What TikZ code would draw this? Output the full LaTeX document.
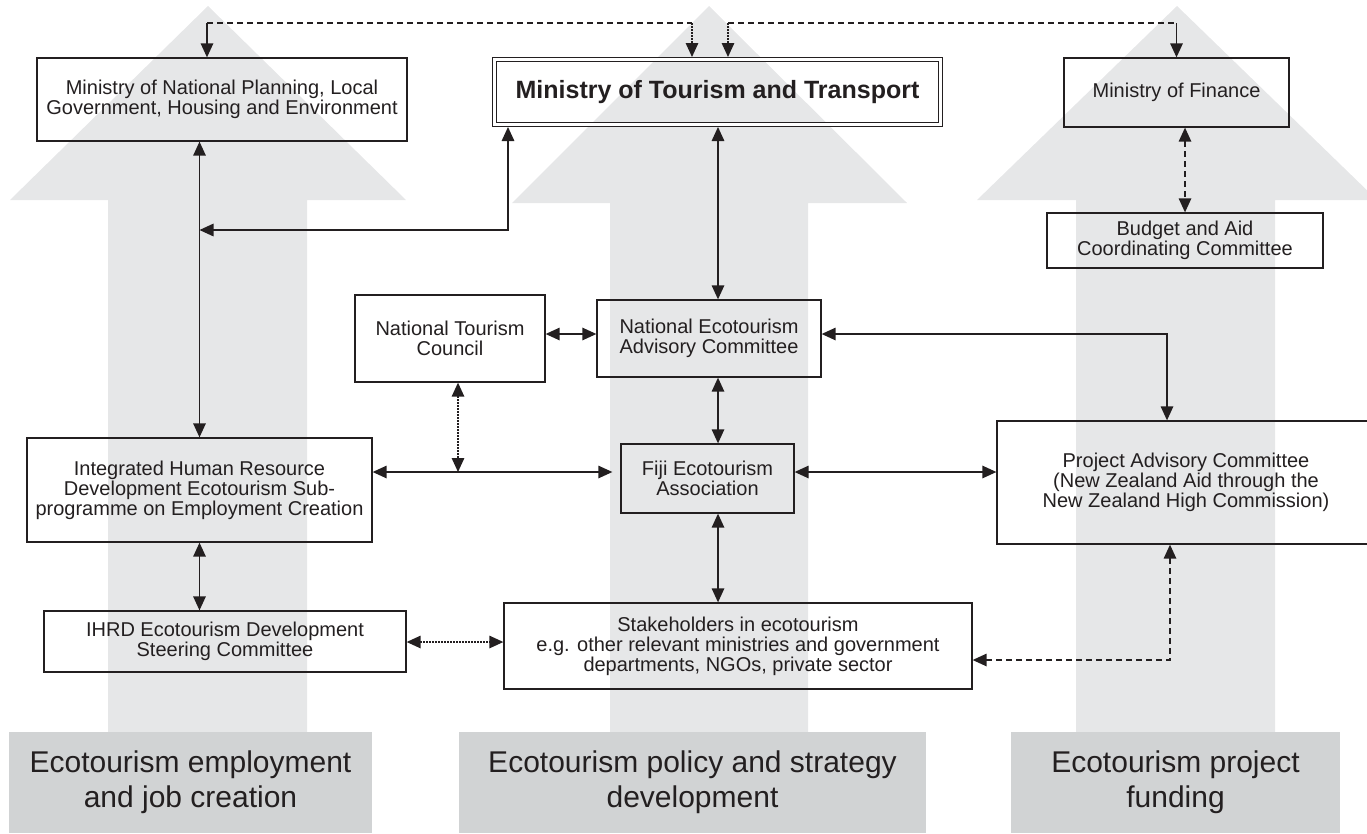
\documentclass[tikz,border=0pt]{standalone}
\usepackage{fontspec}
\setmainfont{Liberation Sans}
\usetikzlibrary{arrows.meta}
\definecolor{bigarrow}{HTML}{E6E7E8}
\definecolor{labelbg}{HTML}{D1D3D4}
\definecolor{ink}{HTML}{231F20}
\begin{document}
\begin{tikzpicture}[x=1pt,y=-1pt,line width=1.3pt,
  >={Triangle[length=14pt,width=12.5pt]},
  box/.style={draw=ink, inner sep=0pt, align=center, text=ink,
    font=\fontsize{20}{20}\selectfont},
  dashline/.style={dash pattern=on 6pt off 4pt},
  dotline/.style={dash pattern=on 1.5pt off 1.5pt},
  pillar/.style={fill=labelbg, inner sep=0pt, align=center, text=ink,
    font=\fontsize{30}{35}\selectfont, minimum height=101pt}
]
\useasboundingbox (0,0) rectangle (1367,833);

% three broad background arrows
\fill[bigarrow] (108,740) -- (108,200) -- (10,200) -- (208,6) -- (406,200) -- (307,200) -- (307,740) -- cycle;
\fill[bigarrow] (610,740) -- (610,203) -- (512,203) -- (709,6) -- (907,203) -- (808,203) -- (808,740) -- cycle;
\fill[bigarrow] (1076,740) -- (1076,200) -- (977,200) -- (1177,6) -- (1377,200) -- (1275,200) -- (1275,740) -- cycle;

% pillar captions
\node[pillar, minimum width=363pt] (capA) at (190.5,782.5) {Ecotourism employment\\and job creation};
\node[pillar, minimum width=467pt] (capB) at (692.5,782.5) {Ecotourism policy and strategy\\development};
\node[pillar, minimum width=329pt] (capC) at (1175.5,782.5) {Ecotourism project\\funding};

% organisations
\node[box, minimum width=370pt, minimum height=83pt] (mnp) at (222,99.5)
  {Ministry of National Planning, Local\\Government, Housing and Environment};
\node[box, double=white, double distance=2.4pt, outer sep=2.5pt,
  minimum width=446pt, minimum height=65pt,
  font=\bfseries\fontsize{25}{25}\selectfont] (mtt) at (717.5,92)
  {Ministry of Tourism and Transport};
\node[box, minimum width=225pt, minimum height=69pt] (mof) at (1176.5,92.5)
  {Ministry of Finance};
\node[box, minimum width=276pt, minimum height=55pt] (bac) at (1185,240.5)
  {Budget and Aid\\Coordinating Committee};
\node[box, minimum width=190pt, minimum height=87pt] (ntc) at (450,338.5)
  {National Tourism\\Council};
\node[box, minimum width=224pt, minimum height=77pt] (neac) at (709,338.5)
  {National Ecotourism\\Advisory Committee};
\node[box, minimum width=173pt, minimum height=69pt] (fea) at (707.5,478.5)
  {Fiji Ecotourism\\Association};
\node[box, minimum width=345pt, minimum height=104pt] (ihr) at (199.5,490)
  {Integrated Human Resource\\Development Ecotourism Sub-\\programme on Employment Creation};
\node[box, minimum width=378pt, minimum height=123pt] (pac) at (1186,482.5)
  {Project Advisory Committee\\(New Zealand Aid through the\\New Zealand High Commission)};
\node[box, minimum width=362pt, minimum height=61pt] (ihrd) at (225,641.5)
  {IHRD Ecotourism Development\\Steering Committee};
\node[box, minimum width=468pt, minimum height=86pt] (stk) at (738,646)
  {Stakeholders in ecotourism\\e.g. other relevant ministries and government\\departments, NGOs, private sector};

% routing points
\coordinate (t207) at (207,23);
\coordinate (t692) at (692,23);
\coordinate (t728) at (728,23);
\coordinate (t1176) at (1176.5,23);
\coordinate (k508) at (508,230);
\coordinate (c718) at (718,0);
\coordinate (r334) at (0,334);
\coordinate (k1167) at (1167,334);
\coordinate (r472) at (0,472);
\coordinate (k458) at (458,472);
\coordinate (r642) at (0,642);
\coordinate (k1170) at (1170,660);

\begin{scope}[draw=ink, color=ink, line width=1.4pt]
% top-level links between ministries
\draw[dashline] (t207) -- (t692);
\draw[dashline] (t728) -- (t1176);
\draw[->] (t207) -- (mnp.north -| t207);
\draw[dotline,->] (t692) -- (mtt.north -| t692);
\draw[dotline,->] (t728) -- (mtt.north -| t728);
\draw[->] (t1176) -- (mof.north);

% solid links
\draw[<->] (ihr.north |- mnp.south) -- (ihr.north);
\draw[<->] (mtt.south -| k508) -- (k508) -- (ihr.north |- k508);
\draw[<->] (mtt.south -| c718) -- (neac.north -| c718);
\draw[<->] (ntc.east |- r334) -- (neac.west |- r334);
\draw[<->] (neac.east |- r334) -- (k1167) -- (pac.north -| k1167);
\draw[<->] (neac.south -| c718) -- (fea.north -| c718);
\draw[<->, shorten >=8pt] (ihr.east |- r472) -- (fea.west |- r472);
\draw[<->] (fea.east |- r472) -- (pac.west |- r472);
\draw[<->] (fea.south -| c718) -- (stk.north -| c718);
\draw[<->] (ihr.south) -- (ihrd.north -| ihr.south);

% dashed and dotted links
\draw[dashline,<->] (mof.south -| bac.north) -- (bac.north);
\draw[dotline,<->] (ntc.south -| k458) -- (k458);
\draw[dotline,<->] (ihrd.east |- r642) -- (stk.west |- r642);
\draw[dashline,<->] (stk.east |- k1170) -- (k1170) -- (pac.south -| k1170);
\end{scope}
\end{tikzpicture}
\end{document}
